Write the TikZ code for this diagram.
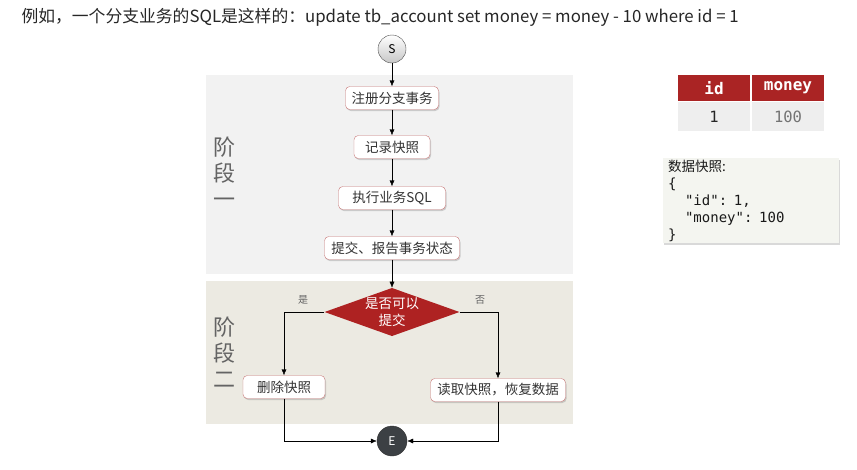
\documentclass[tikz,border=0pt]{standalone}
\usepackage{fontspec}
\setmainfont{Noto Sans CJK SC}
\newfontfamily\codefont{DejaVu Sans Mono}
\usepackage{xcolor}
\usepackage{tikz}
\usetikzlibrary{shapes.geometric, arrows.meta, positioning, calc, shadows}
\definecolor{stageone}{RGB}{242, 242, 242}
\definecolor{stagetwo}{RGB}{236, 234, 226}
\definecolor{boxline}{RGB}{200, 120, 120}
\definecolor{darkred}{RGB}{170, 36, 36}
\definecolor{cellbg}{RGB}{238, 238, 238}
\definecolor{notebg}{RGB}{244, 245, 240}
\definecolor{endfill}{RGB}{60, 64, 68}
\definecolor{labelgray}{RGB}{100, 100, 100}
\newcommand{\codeline}[1]{{\codefont\fontsize{14}{17}\selectfont #1}}

\begin{document}
\begin{tikzpicture}[
    x=1pt, y=-1pt,
    stepbox/.style={rectangle, draw=boxline, fill=white, rounded corners=1.5mm, align=center, minimum height=23pt, inner xsep=5pt, font=\fontsize{13.5}{15}\selectfont, text=black!80, drop shadow={shadow xshift=1pt, shadow yshift=-1.5pt, opacity=0.35}},
    decision/.style={diamond, fill=darkred!95!red, minimum width=135pt, minimum height=48pt, inner sep=0pt, aspect=2.8, align=center, text=white, font=\fontsize{13.5}{17}\selectfont},
    terminal/.style={circle, draw=black!70, minimum size=28pt, inner sep=0pt, font=\fontsize{12}{12}\selectfont},
    arrow/.style={-{Latex[length=6pt, width=5pt]}, thin, color=black},
    stage/.style={font=\fontsize{22}{26}\selectfont, text=labelgray, align=center},
    guard/.style={font=\fontsize{10}{10}\selectfont, text=labelgray},
    head/.style={fill=darkred, text=white, minimum height=26pt, font=\codefont\bfseries\fontsize{16}{16}\selectfont},
    cell/.style={fill=cellbg, minimum height=29pt, font=\codefont\fontsize{15.5}{15.5}\selectfont}
]
    \useasboundingbox (0,0) rectangle (857,469);

    % title
    \node[anchor=west, font=\fontsize{16.8}{18}\selectfont, text=black!85] (title) at (18,17) {例如，一个分支业务的SQL是这样的：update tb\_account set money = money - 10 where id = 1};

    % stage backgrounds
    \fill[stageone] (206,75) rectangle (573,274);
    \fill[stagetwo] (206,281) rectangle (573,424);
    \node[stage] (one) at (224,172) {阶\\段\\一};
    \node[stage] (two) at (224,352) {阶\\段\\二};

    % flow
    \node[terminal, top color=white, bottom color=black!22] (s) at (392,49) {S};
    \node[stepbox, minimum width=93pt] (reg) at (392,98) {注册分支事务};
    \node[stepbox, minimum width=76pt] (rec) at (392,147) {记录快照};
    \node[stepbox, minimum width=107pt] (exe) at (392,198) {执行业务SQL};
    \node[stepbox, minimum width=135pt] (rep) at (392,248) {提交、报告事务状态};
    \node[decision] (dec) at (392,312) {是否可以\\提交};
    \node[stepbox, minimum width=82pt] (del) at (284,387) {删除快照};
    \node[stepbox, minimum width=135pt] (res) at (498,390) {读取快照，恢复数据};
    \node[terminal, fill=endfill, draw=black!80, text=white, minimum size=30pt] (e) at (392,441) {E};

    \draw[arrow] (s) -- (reg);
    \draw[arrow] (reg) -- (rec);
    \draw[arrow] (rec) -- (exe);
    \draw[arrow] (exe) -- (rep);
    \draw[arrow] (rep) -- (dec);
    \draw[arrow] (dec.west) -| (del.north);
    \draw[arrow] (dec.east) -| (res.north);
    \draw[arrow] (del.south) |- (e.west);
    \draw[arrow] (res.south) |- (e.east);
    \node[guard] (yes) at (303,300) {是};
    \node[guard] (no) at (480,300) {否};

    % table
    \node[head, minimum width=72pt] (hid) at (714,88) {id};
    \node[head, minimum width=72pt] (hmoney) at (788,88) {money};
    \node[cell, minimum width=72pt, text=black!85] (vid) at (714,116.5) {1};
    \node[cell, minimum width=72pt, text=black!55] (vmoney) at (788,116.5) {100};

    % snapshot
    \node[anchor=north west, fill=notebg, minimum width=176pt, minimum height=85pt, text width=166pt, inner xsep=5pt, inner ysep=1pt, align=left, font=\fontsize{13.5}{17}\selectfont, text=black!90, drop shadow={shadow xshift=1pt, shadow yshift=-1.5pt, opacity=0.3}] (snap) at (663,158) {数据快照:\\\codeline{\{}\\\codeline{\hphantom{00}"id": 1,}\\\codeline{\hphantom{00}"money": 100}\\\codeline{\}}};
\end{tikzpicture}
\end{document}
